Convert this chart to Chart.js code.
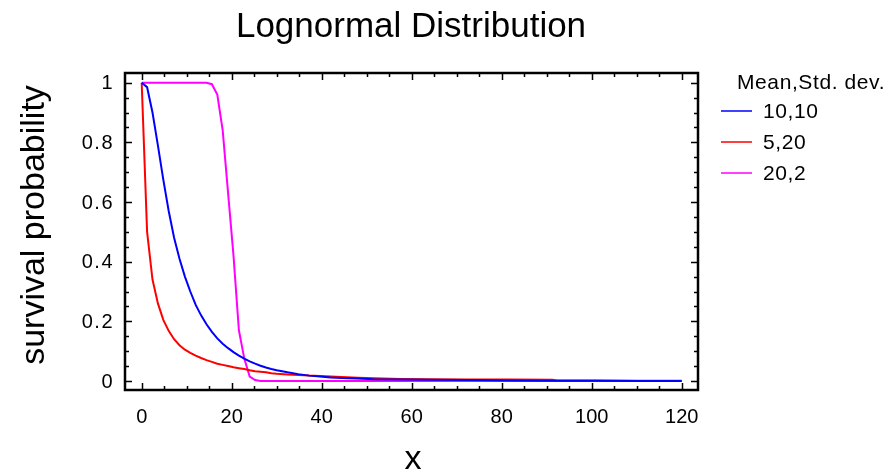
<!DOCTYPE html>
<html>
<head>
<meta charset="utf-8">
<title>Lognormal Distribution</title>
<script src="https://cdn.jsdelivr.net/npm/chart.js@4/dist/chart.umd.min.js"></script>
<style>
  html, body { margin: 0; padding: 0; background: #fff; }
  #wrap { width: 890px; height: 472px; }
</style>
</head>
<body>
<div id="wrap"><canvas id="survChart" width="890" height="472"></canvas></div>
<script>
// x positions shared by the three survival curves
const xValues = [0, 1.2, 2.4, 3.6, 4.8, 6, 7.2, 8.4, 9.6, 10.8, 12, 13.2, 14.4, 15.6, 16.8, 18,
  19.2, 20.4, 21.6, 22.8, 24, 25.2, 26.4, 27.6, 28.8, 30, 32.4, 34.8, 37.2, 39.6, 42, 44.4,
  48, 51.6, 57.6, 63.6, 72, 81.6, 91.2, 92.4, 100.8, 110.4, 120];

// survival probability, mean 10 / std. dev. 10
const surv10_10 = [1, 0.985, 0.9, 0.79, 0.675, 0.57, 0.48, 0.41, 0.35, 0.3, 0.255, 0.22, 0.19, 0.165, 0.143, 0.125,
  0.11, 0.097, 0.085, 0.075, 0.066, 0.058, 0.051, 0.045, 0.04, 0.036, 0.029, 0.023, 0.018, 0.015, 0.012, 0.01,
  0.008, 0.006, 0.005, 0.004, 0.003, 0.002, 0.001, 0.001, 0.001, 0, 0];

// mean 5 / std. dev. 20
const surv5_20 = [1, 0.5, 0.34, 0.26, 0.205, 0.168, 0.14, 0.12, 0.105, 0.094, 0.085, 0.077, 0.07, 0.064, 0.058, 0.054,
  0.05, 0.046, 0.043, 0.04, 0.036, 0.033, 0.031, 0.029, 0.026, 0.024, 0.022, 0.02, 0.018, 0.017, 0.015, 0.013,
  0.011, 0.009, 0.007, 0.006, 0.005, 0.005, 0.004, 0.002, 0.002, 0.001, 0.001];

// mean 20 / std. dev. 2
const surv20_2 = [1, 1, 1, 1, 1, 1, 1, 1, 1, 1, 1, 1, 1, 0.995, 0.96, 0.84,
  0.63, 0.42, 0.17, 0.075, 0.015, 0.003, 0, 0, 0, 0, 0, 0, 0, 0, 0, 0,
  0, 0, 0, 0, 0, 0, 0, 0, 0, 0, 0];

const seriesNames = ["10,10", "5,20", "20,2"];
const seriesColors = ["#0000ff", "#ff0000", "#ff00ff"];
const xTicks = [0, 20, 40, 60, 80, 100, 120];
const yTicks = [0, 0.2, 0.4, 0.6, 0.8, 1];

function toPoints(ys) {
  return xValues.map((x, i) => ({ x: x, y: ys[i] }));
}

// frame, inward ticks, labels, titles and legend
const decorations = {
  id: "decorations",
  afterDraw(chart) {
    const ctx = chart.ctx;
    const area = chart.chartArea;
    const sx = chart.scales.x;
    const sy = chart.scales.y;
    ctx.save();
    ctx.strokeStyle = "#000";
    ctx.fillStyle = "#000";

    // minor / major ticks on all four sides
    ctx.lineWidth = 1.5;
    ctx.beginPath();
    for (let v = 0; v <= 120; v += 5) {
      const px = Math.round(sx.getPixelForValue(v)) + 0.5;
      const len = v % 20 === 0 ? 7 : 4;
      ctx.moveTo(px, area.bottom); ctx.lineTo(px, area.bottom - len);
      ctx.moveTo(px, area.top); ctx.lineTo(px, area.top + len);
    }
    for (let i = 0; i <= 20; i++) {
      const py = Math.round(sy.getPixelForValue(i * 0.05)) + 0.5;
      const len = i % 4 === 0 ? 7 : 4;
      ctx.moveTo(area.left, py); ctx.lineTo(area.left + len, py);
      ctx.moveTo(area.right, py); ctx.lineTo(area.right - len, py);
    }
    ctx.stroke();

    ctx.lineWidth = 2.5;
    ctx.strokeRect(area.left, area.top, area.right - area.left, area.bottom - area.top);

    // tick labels
    ctx.font = "20px 'Liberation Sans', Arial, sans-serif";
    ctx.textAlign = "center";
    ctx.textBaseline = "alphabetic";
    xTicks.forEach(v => ctx.fillText(String(v), sx.getPixelForValue(v), 423));
    ctx.textAlign = "right";
    ctx.textBaseline = "middle";
    ctx.letterSpacing = "1.5px";
    yTicks.forEach(v => ctx.fillText(String(v), 114, sy.getPixelForValue(v) + 1));
    ctx.letterSpacing = "0px";

    // title and axis titles
    ctx.font = "35px 'Liberation Sans', Arial, sans-serif";
    ctx.textAlign = "center";
    ctx.textBaseline = "alphabetic";
    ctx.fillText("Lognormal Distribution", 411, 37);
    ctx.font = "34px 'Liberation Sans', Arial, sans-serif";
    ctx.fillText("x", 413, 469);
    ctx.save();
    ctx.translate(44, 225);
    ctx.rotate(-Math.PI / 2);
    ctx.fillText("survival probability", 0, 0);
    ctx.restore();

    // legend
    ctx.font = "21px 'Liberation Sans', Arial, sans-serif";
    ctx.textAlign = "left";
    ctx.letterSpacing = "0.6px";
    ctx.fillText("Mean,Std. dev.", 737, 89);
    chart.data.datasets.forEach((ds, i) => {
      const y = 111 + i * 31;
      ctx.strokeStyle = ds.borderColor;
      ctx.lineWidth = 1.5;
      ctx.beginPath();
      ctx.moveTo(721, y); ctx.lineTo(752, y);
      ctx.stroke();
      ctx.textBaseline = "middle";
      ctx.fillText(ds.label, 763, y + 1);
      ctx.textBaseline = "alphabetic";
    });
    ctx.restore();
  }
};

const datasets = [surv10_10, surv5_20, surv20_2].map((ys, i) => ({
  label: seriesNames[i],
  data: toPoints(ys),
  borderColor: seriesColors[i],
  backgroundColor: seriesColors[i],
  borderWidth: 2,
  pointRadius: 0,
  tension: 0,
  fill: false
}));

new Chart(document.getElementById("survChart").getContext("2d"), {
  type: "line",
  data: { datasets: datasets },
  options: {
    responsive: false,
    animation: false,
    layout: { padding: { left: 125, top: 73, right: 192, bottom: 82 } },
    plugins: {
      legend: { display: false },
      tooltip: { enabled: false },
      title: { display: false }
    },
    scales: {
      x: { type: "linear", min: -3.71, max: 123.62, display: false },
      y: { type: "linear", min: -0.0302, max: 1.0325, display: false }
    }
  },
  plugins: [decorations]
});
</script>
</body>
</html>
